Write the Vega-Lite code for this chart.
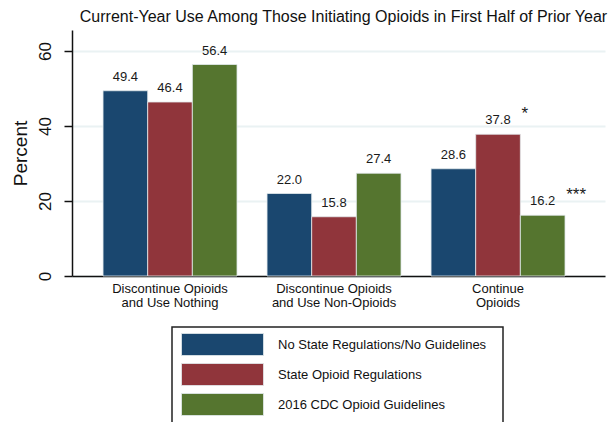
{
  "$schema": "https://vega.github.io/schema/vega-lite/v6.json",
  "autosize": {"type": "none"},
  "width": 533,
  "height": 246,
  "padding": {"left": 72, "top": 30, "right": 9, "bottom": 146},
  "background": "white",
  "config": {
    "view": {"stroke": null},
    "font": "Liberation Sans",
    "legend": {"strokeWidth": 1.5}
  },
  "title": {
    "text": "Current-Year Use Among Those Initiating Opioids in First Half of Prior Year",
    "font": "Liberation Sans",
    "fontSize": 16,
    "fontWeight": "normal",
    "color": "#111",
    "anchor": "middle",
    "baseline": "alphabetic",
    "offset": 8,
    "dx": 5,
    "dy": 15.5
  },
  "data": {
    "values": [
      {"outcome": "Discontinue Opioids and Use Nothing", "group": "No State Regulations/No Guidelines", "value": 49.4, "sig": ""},
      {"outcome": "Discontinue Opioids and Use Nothing", "group": "State Opioid Regulations", "value": 46.4, "sig": ""},
      {"outcome": "Discontinue Opioids and Use Nothing", "group": "2016 CDC Opioid Guidelines", "value": 56.4, "sig": ""},
      {"outcome": "Discontinue Opioids and Use Non-Opioids", "group": "No State Regulations/No Guidelines", "value": 22.0, "sig": ""},
      {"outcome": "Discontinue Opioids and Use Non-Opioids", "group": "State Opioid Regulations", "value": 15.8, "sig": ""},
      {"outcome": "Discontinue Opioids and Use Non-Opioids", "group": "2016 CDC Opioid Guidelines", "value": 27.4, "sig": ""},
      {"outcome": "Continue Opioids", "group": "No State Regulations/No Guidelines", "value": 28.6, "sig": ""},
      {"outcome": "Continue Opioids", "group": "State Opioid Regulations", "value": 37.8, "sig": "*"},
      {"outcome": "Continue Opioids", "group": "2016 CDC Opioid Guidelines", "value": 16.2, "sig": "***"}
    ]
  },
  "encoding": {
    "x": {
      "field": "outcome",
      "type": "nominal",
      "sort": ["Discontinue Opioids and Use Nothing", "Discontinue Opioids and Use Non-Opioids", "Continue Opioids"],
      "scale": {"paddingInner": 0.183, "paddingOuter": 0.2165, "align": 0.437},
      "title": null,
      "axis": {
        "labelAngle": 0,
        "ticks": false,
        "labelPadding": 6,
        "labelFontSize": 13,
        "labelLineHeight": 14,
        "labelColor": "#111",
        "labelBaseline": "top",
        "domainColor": "#111",
        "domainWidth": 1.5,
        "labelExpr": "datum.value == 'Continue Opioids' ? ['Continue', 'Opioids'] : datum.value == 'Discontinue Opioids and Use Nothing' ? ['Discontinue Opioids', 'and Use Nothing'] : ['Discontinue Opioids', 'and Use Non-Opioids']"
      }
    },
    "xOffset": {
      "field": "group",
      "type": "nominal",
      "sort": ["No State Regulations/No Guidelines", "State Opioid Regulations", "2016 CDC Opioid Guidelines"],
      "scale": {"paddingInner": 0, "paddingOuter": 0}
    },
    "y": {
      "field": "value",
      "type": "quantitative",
      "scale": {"domain": [0, 65.6], "nice": false, "zero": true},
      "axis": {
        "title": "Percent",
        "values": [0, 20, 40, 60],
        "domainColor": "#111",
        "domainWidth": 1.5,
        "tickColor": "#111",
        "tickSize": 8,
        "tickWidth": 1.5,
        "labelAngle": -90,
        "labelAlign": "center",
        "labelBaseline": "bottom",
        "labelFontSize": 17,
        "labelPadding": 10,
        "labelColor": "#111",
        "gridColor": "#eaf2f3",
        "gridWidth": 2,
        "titleFontSize": 19,
        "titleFontWeight": "normal",
        "titleColor": "#111",
        "titlePadding": 6
      }
    }
  },
  "layer": [
    {
      "mark": {"type": "bar", "stroke": "#e3ebee", "strokeWidth": 0.8},
      "encoding": {
        "color": {
          "field": "group",
          "type": "nominal",
          "scale": {
            "domain": ["No State Regulations/No Guidelines", "State Opioid Regulations", "2016 CDC Opioid Guidelines"],
            "range": ["#1a476f", "#90353b", "#55752f"]
          },
          "legend": {
            "orient": "none",
            "legendX": 100,
            "legendY": 297,
            "title": " ",
            "titleOrient": "right",
            "titlePadding": 11,
            "strokeColor": "#222",
            "padding": 6,
            "symbolType": "M-0.727,-1H6.727V1H-0.727Z",
            "symbolSize": 484,
            "symbolFillOpacity": 1,
            "symbolStrokeWidth": 0.8,
            "labelOffset": 77,
            "labelFontSize": 13,
            "labelLimit": 400,
            "labelColor": "#111",
            "rowPadding": 3
          }
        }
      }
    },
    {
      "mark": {"type": "text", "baseline": "alphabetic", "dy": -10, "fontSize": 13, "color": "#1a1a1a"},
      "encoding": {
        "text": {"field": "value", "type": "quantitative", "format": ".1f"}
      }
    },
    {
      "transform": [{"filter": "datum.sig != ''"}],
      "mark": {"type": "text", "baseline": "alphabetic", "align": "left", "dx": 23.5, "dy": -15.5, "fontSize": 17, "color": "#1a1a1a"},
      "encoding": {
        "text": {"field": "sig", "type": "nominal"}
      }
    }
  ]
}
